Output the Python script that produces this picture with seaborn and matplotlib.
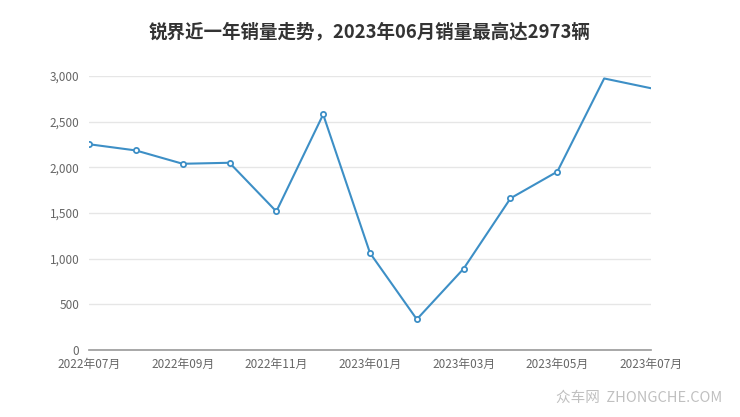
import pandas as pd
import matplotlib
matplotlib.use("Agg")
import matplotlib.pyplot as plt
import seaborn as sns

# monthly sales, 2022-07 .. 2023-07
months = ["2022年07月", "2022年08月", "2022年09月", "2022年10月", "2022年11月",
          "2022年12月", "2023年01月", "2023年02月", "2023年03月", "2023年04月",
          "2023年05月", "2023年06月", "2023年07月"]
sales = [2253, 2185, 2039, 2050, 1517, 2579, 1062, 336, 891, 1661, 1953, 2973, 2866]
y_ticks = [0, 500, 1000, 1500, 2000, 2500, 3000]
title = "锐界近一年销量走势，2023年06月销量最高达2973辆"

sns.set_style("white")
plt.rcParams['font.family'] = ['Noto Sans CJK SC', 'DejaVu Sans']

df = pd.DataFrame({"idx": range(len(months)), "month": months, "sales": sales})

fig = plt.figure(figsize=(7.4, 4.17), dpi=100)
ax = fig.add_axes([89 / 740, 1 - 350 / 417, (651 - 89) / 740, (350 - 76) / 417])

line_color = "#3d8fc6"
sns.lineplot(data=df, x="idx", y="sales", ax=ax, color=line_color, linewidth=1.5)
# circle markers (last two points have none in the original)
mk = df.iloc[:11]
ax.scatter(mk["idx"], mk["sales"], s=14, facecolor="white", edgecolor=line_color,
           linewidth=1.3, zorder=3)

ax.set_xlim(0, len(months) - 1)
ax.set_ylim(0, 3000)
ax.set_yticks(y_ticks)
ax.set_yticklabels([f"{v:,}" for v in y_ticks])
ax.set_xticks(df["idx"][::2])
ax.set_xticklabels(df["month"][::2])
ax.set_xlabel("")
ax.set_ylabel("")

ax.grid(axis="y", color="#e6e6e6", linewidth=1)
ax.set_axisbelow(True)
for s in ["top", "right", "left"]:
    ax.spines[s].set_visible(False)
ax.spines["bottom"].set_color("#999999")
ax.spines["bottom"].set_linewidth(1.2)
ax.tick_params(axis="x", length=4, color="#999999", labelsize=8.5, labelcolor="#666666", pad=2)
ax.tick_params(axis="y", length=0, labelsize=8.5, labelcolor="#666666", pad=7)

fig.text(0.5, 1 - 32 / 417, title, ha="center", va="center", fontsize=13.3,
         fontweight="bold", color="#333333")
fig.text(722 / 740, 1 - 398 / 417, "众车网  ZHONGCHE.COM", ha="right", va="center",
         fontsize=10.5, color="#c0c0c0")

fig.savefig("out.png", dpi=100)
